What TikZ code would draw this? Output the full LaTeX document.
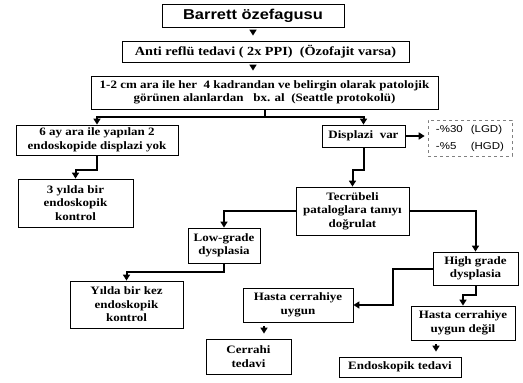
\documentclass[tikz,border=0pt]{standalone}
\usepackage{fontspec}
\setmainfont{Liberation Serif}[FakeStretch=1.15]
\newfontfamily\arialfont{Liberation Sans}[FakeStretch=1.15]
\usetikzlibrary{arrows.meta}

\begin{document}
\begin{tikzpicture}[x=1pt, y=-1pt, >={Triangle[width=7pt,length=6pt]},
  box/.style={draw, line width=0.8pt, inner sep=0pt, align=center,
    font=\fontsize{11.3}{13.5}\selectfont\bfseries},
  link/.style={->, line width=2pt},
  tip/.style={->, line width=2pt, shorten <=4pt, shorten >=5pt}]
  \useasboundingbox (0,0) rectangle (523,383);
  % Top of the chart
  \node[box, minimum width=182pt, minimum height=23pt,
    font=\arialfont\fontsize{14.3}{16}\selectfont\bfseries] (barrett) at (253,15.5) {Barrett özefagusu};
  \node[box, minimum width=287pt, minimum height=21pt,
    font=\fontsize{12.4}{14}\selectfont\bfseries] (anti) at (265.5,51.5)
    {Anti reflü tedavi ( 2x PPI)\ \ (Özofajit varsa)};
  \node[box, minimum width=347pt, minimum height=33pt] (bx) at (264.5,92.5)
    {1-2 cm ara ile her\ \ 4 kadrandan ve belirgin olarak patolojik\\
     görünen alanlardan\ \ \ bx. al\ \ (Seattle protokolü)};
  % Left branch
  \node[box, minimum width=162pt, minimum height=30pt] (ay6) at (97,140)
    {6 ay ara ile yapılan 2\\endoskopide displazi yok};
  \node[box, minimum width=115pt, minimum height=48pt] (uc) at (75.5,203)
    {3 yılda bir\\endoskopik\\kontrol};
  % Right branch
  \node[box, minimum width=83pt, minimum height=22pt] (disp) at (363.5,136) {Displazi\ \ var};
  \node[draw=gray, dashed, line width=0.6pt, minimum width=84pt, minimum height=36pt,
    inner sep=0pt, align=left, font=\arialfont\fontsize{10}{17}\selectfont] (oran) at (470,138)
    {-\makebox[31pt][l]{\%30}(LGD)\\-\makebox[31pt][l]{\%5}(HGD)};
  \node[box, minimum width=113pt, minimum height=48pt] (tecr) at (352.5,211)
    {Tecrübeli\\pataloglara tanıyı\\doğrulat};
  \node[box, minimum width=72pt, minimum height=35pt] (low) at (224,245.5) {Low-grade\\dysplasia};
  \node[box, minimum width=113pt, minimum height=47pt] (yilda) at (126.5,304.5)
    {Yılda bir kez\\endoskopik\\kontrol};
  \node[box, minimum width=85pt, minimum height=33pt] (high) at (475.5,268.5) {High grade\\dysplasia};
  \node[box, minimum width=110pt, minimum height=34pt] (hcu) at (298,305) {Hasta cerrahiye\\uygun};
  \node[box, minimum width=104pt, minimum height=34pt] (hcud) at (463,323) {Hasta cerrahiye\\uygun değil};
  \node[box, minimum width=85pt, minimum height=35pt] (cerr) at (248.5,356.5) {Cerrahi\\tedavi};
  \node[box, minimum width=122pt, minimum height=20pt] (endo) at (400,367) {Endoskopik tedavi};
  % Connectors
  \draw[tip] (barrett.south) -- (barrett.south |- anti.north);
  \draw[tip] (barrett.south |- anti.south) -- (barrett.south |- bx.north);
  \draw[link] (bx.south) -- ++(0,8) -| (ay6.north);
  \draw[link] (bx.south) -- ++(0,8) -| (disp.north);
  \draw[link] (ay6.south) -- ++(0,15) -| (uc.north);
  \draw[link, shorten >=3pt] (disp.east) -- (disp.east -| oran.west);
  \draw[link] (disp.south) -- ++(0,23) -| (tecr.north);
  \draw[link] (tecr.west) -| (low.north);
  \draw[link] (tecr.east) -| (high.north);
  \draw[link] (low.south) -- ++(0,9) -| (yilda.north);
  \draw[link] (high.west) -- ++(-40,0) |- (hcu.east);
  \draw[link] (high.south) -- ++(0,10) -| (hcud.north);
  \draw[tip] ([xshift=-34pt]hcu.south) -- ([xshift=-34pt]hcu.south |- cerr.north);
  \draw[tip] ([xshift=-27pt]hcud.south) -- ([xshift=-27pt]hcud.south |- endo.north);
\end{tikzpicture}
\end{document}
